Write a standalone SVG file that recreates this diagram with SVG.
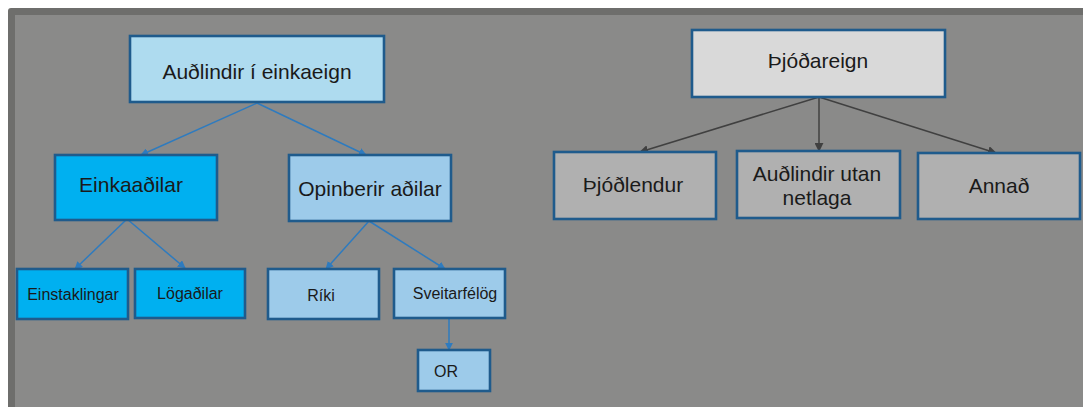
<svg xmlns="http://www.w3.org/2000/svg" width="1083" height="407" viewBox="0 0 1083 407">
<defs>
<style>
.n{stroke:#1f5b8c;stroke-width:2.6}
.b1{fill:#aedbef}
.b2{fill:#00b0f0}
.b3{fill:#9dcbea}
.g1{fill:#d9d9d9}
.g2{fill:#b0b0b0}
text{font-family:"Liberation Sans",Arial,sans-serif;fill:#1a1a1a;text-anchor:middle}
.L{font-size:21px}
.S{font-size:16px}
.cb{stroke:#2e7bbf;stroke-width:1.5;fill:none;marker-end:url(#ab)}
.cg{stroke:#404040;stroke-width:1.5;fill:none;marker-end:url(#ag)}
</style>
<marker id="ab" viewBox="0 0 10 10" refX="9" refY="5" markerWidth="8" markerHeight="8" markerUnits="userSpaceOnUse" orient="auto"><path d="M0,0L10,5L0,10z" fill="#2e7bbf"/></marker>
<marker id="ag" viewBox="0 0 10 10" refX="9" refY="5" markerWidth="9" markerHeight="9" markerUnits="userSpaceOnUse" orient="auto"><path d="M0,0L10,5L0,10z" fill="#404040"/></marker>
</defs>
<rect width="1083" height="407" fill="#ffffff"/>
<rect x="8" y="8" width="1080" height="404" rx="3" fill="#6e6e6c"/>
<rect x="15" y="15" width="1070" height="396" fill="#8a8a89"/>
<g id="connectors">
<path class="cb" d="M257,103L141,155"/>
<path class="cb" d="M257,103L366,155"/>
<path class="cb" d="M127,219L75,269"/>
<path class="cb" d="M127,219L185,268"/>
<path class="cb" d="M369,221L326,269"/>
<path class="cb" d="M369,221L445,269"/>
<path class="cb" d="M449,318L449,350"/>
<path class="cg" d="M819,97L640,152"/>
<path class="cg" d="M819,97L819,151"/>
<path class="cg" d="M819,97L996,153"/>
</g>
<g id="n-einkaeign"><rect class="n b1" x="130" y="36" width="254" height="66"/><text class="L" x="257" y="79">Auðlindir í einkaeign</text></g>
<g id="n-einkaadilar"><rect class="n b2" x="55" y="155" width="162" height="65"/><text class="L" x="131" y="192">Einkaaðilar</text></g>
<g id="n-opinberir"><rect class="n b3" x="289" y="155" width="162" height="66"/><text class="L" x="370" y="196">Opinberir aðilar</text></g>
<g id="n-einstaklingar"><rect class="n b2" x="17" y="269" width="111" height="50"/><text class="S" x="73" y="300">Einstaklingar</text></g>
<g id="n-logadilar"><rect class="n b2" x="135" y="269" width="110" height="49"/><text class="S" x="190" y="299">Lögaðilar</text></g>
<g id="n-riki"><rect class="n b3" x="268" y="269" width="111" height="50"/><text class="S" x="321" y="301">Ríki</text></g>
<g id="n-sveitarfelog"><rect class="n b3" x="394" y="269" width="111" height="49"/><text class="S" x="455" y="299">Sveitarfélög</text></g>
<g id="n-or"><rect class="n b3" x="418" y="350" width="72" height="41"/><text class="S" x="446" y="377">OR</text></g>
<g id="n-thjodareign"><rect class="n g1" x="692" y="30" width="253" height="67"/><text class="L" x="818" y="68">Þjóðareign</text></g>
<g id="n-thjodlendur"><rect class="n g2" x="554" y="152" width="162" height="67"/><text class="L" x="633" y="192">Þjóðlendur</text></g>
<g id="n-utan"><rect class="n g2" x="737" y="151" width="163" height="67"/><text class="L" x="817" y="181">Auðlindir utan</text><text class="L" x="817" y="205">netlaga</text></g>
<g id="n-annad"><rect class="n g2" x="918" y="153" width="162" height="66"/><text class="L" x="999" y="193">Annað</text></g>
</svg>
